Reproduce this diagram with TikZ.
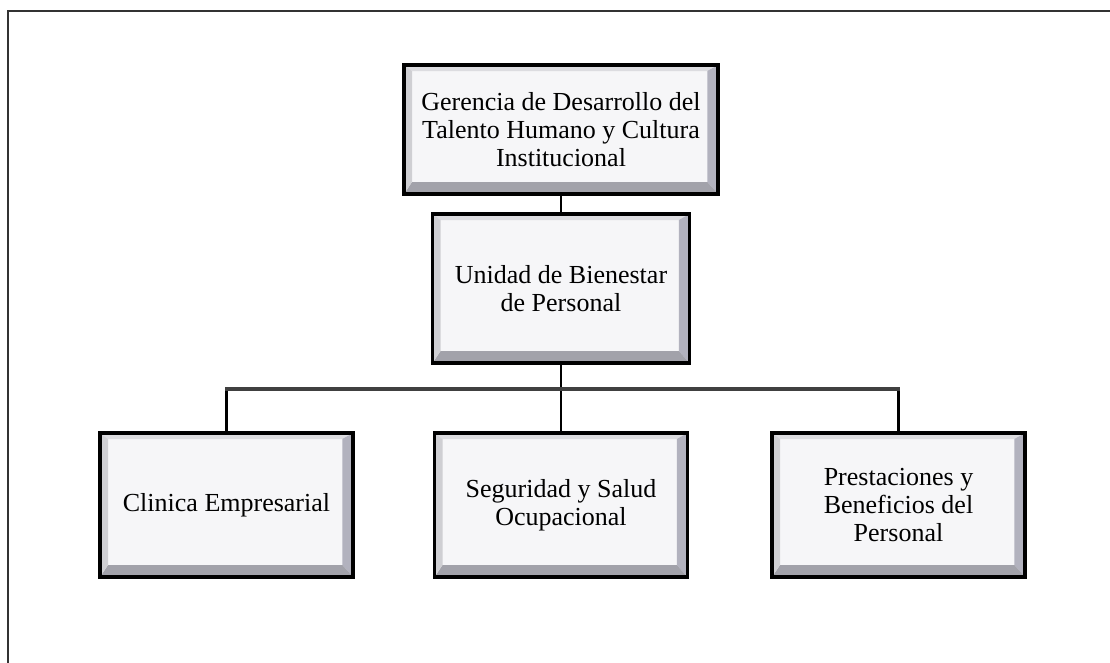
\documentclass[tikz,border=0pt]{standalone}
\usepackage{fontspec}
\setmainfont{Liberation Serif}
\usetikzlibrary{calc}
\definecolor{bevelface}{HTML}{F6F6F8}
\definecolor{beveltop}{HTML}{DCDCE0}
\definecolor{bevelleft}{HTML}{CFCFD3}
\definecolor{bevelright}{HTML}{B2B2BE}
\definecolor{bevelbottom}{HTML}{A2A2AA}
\newcommand{\boxfont}{\fontsize{19.5pt}{21pt}\selectfont}
\tikzset{frameline/.style={black!80,line width=1.4pt}}
\tikzset{link/.style={black,line width=2.2pt}}
\tikzset{bus/.style={black!75,line width=2.6pt}}
\tikzset{bevelbox/.style={draw=black,line width=2.4pt,fill=bevelface,align=center,font=\boxfont,inner sep=0pt,
	path picture={
		\coordinate (bbsw) at (path picture bounding box.south west);
		\coordinate (bbne) at (path picture bounding box.north east);
		\coordinate (bbnw) at (path picture bounding box.north west);
		\coordinate (bbse) at (path picture bounding box.south east);
		\fill[beveltop] (bbnw) -- (bbne) -- ($(bbne)+(-8pt,-4.5pt)$) -- ($(bbnw)+(6pt,-4.5pt)$) -- cycle;
		\fill[bevelright] (bbne) -- (bbse) -- ($(bbse)+(-8pt,9pt)$) -- ($(bbne)+(-8pt,-4.5pt)$) -- cycle;
		\fill[bevelbottom] (bbsw) -- (bbse) -- ($(bbse)+(-8pt,9pt)$) -- ($(bbsw)+(6pt,9pt)$) -- cycle;
		\fill[bevelleft] (bbsw) -- (bbnw) -- ($(bbnw)+(6pt,-4.5pt)$) -- ($(bbsw)+(6pt,9pt)$) -- cycle;
	}}}
\tikzset{topbox/.style={bevelbox,minimum width=235.5pt,minimum height=96.75pt}}
\tikzset{unitbox/.style={bevelbox,minimum width=192.75pt,minimum height=111.75pt}}
\tikzset{leafbox/.style={bevelbox,minimum width=189.75pt,minimum height=108pt}}

\begin{document}
\begin{tikzpicture}[x=0.75pt,y=-0.75pt]
	\clip (0,0) rectangle (1110,662);
	\fill[white] (0,0) rectangle (1110,662);

	\draw[frameline] (8,11) rectangle (1130,680);

	\node[topbox] (gerencia) at (561,129.5) {Gerencia de Desarrollo del\\Talento Humano y Cultura\\Institucional};
	\node[unitbox] (bienestar) at (561,288.5) {Unidad de Bienestar\\de Personal};

	\node[leafbox] (clinica) at (226.5,505) {Clinica Empresarial};
	\node[leafbox] (seguridad) at (561,505) {Seguridad y Salud\\Ocupacional};
	\node[leafbox] (prestaciones) at (898.5,505) {Prestaciones y\\Beneficios del\\Personal};

	\coordinate (split) at (561,389);

	% connectors
	\draw[link] (gerencia) -- (bienestar);
	\draw[link] (bienestar) -- (seguridad);
	\draw[link] (clinica) -- (clinica |- split);
	\draw[link] (prestaciones) -- (prestaciones |- split);
	\draw[bus] ([xshift=-1pt]clinica |- split) -- ([xshift=1pt]prestaciones |- split);
\end{tikzpicture}
\end{document}
